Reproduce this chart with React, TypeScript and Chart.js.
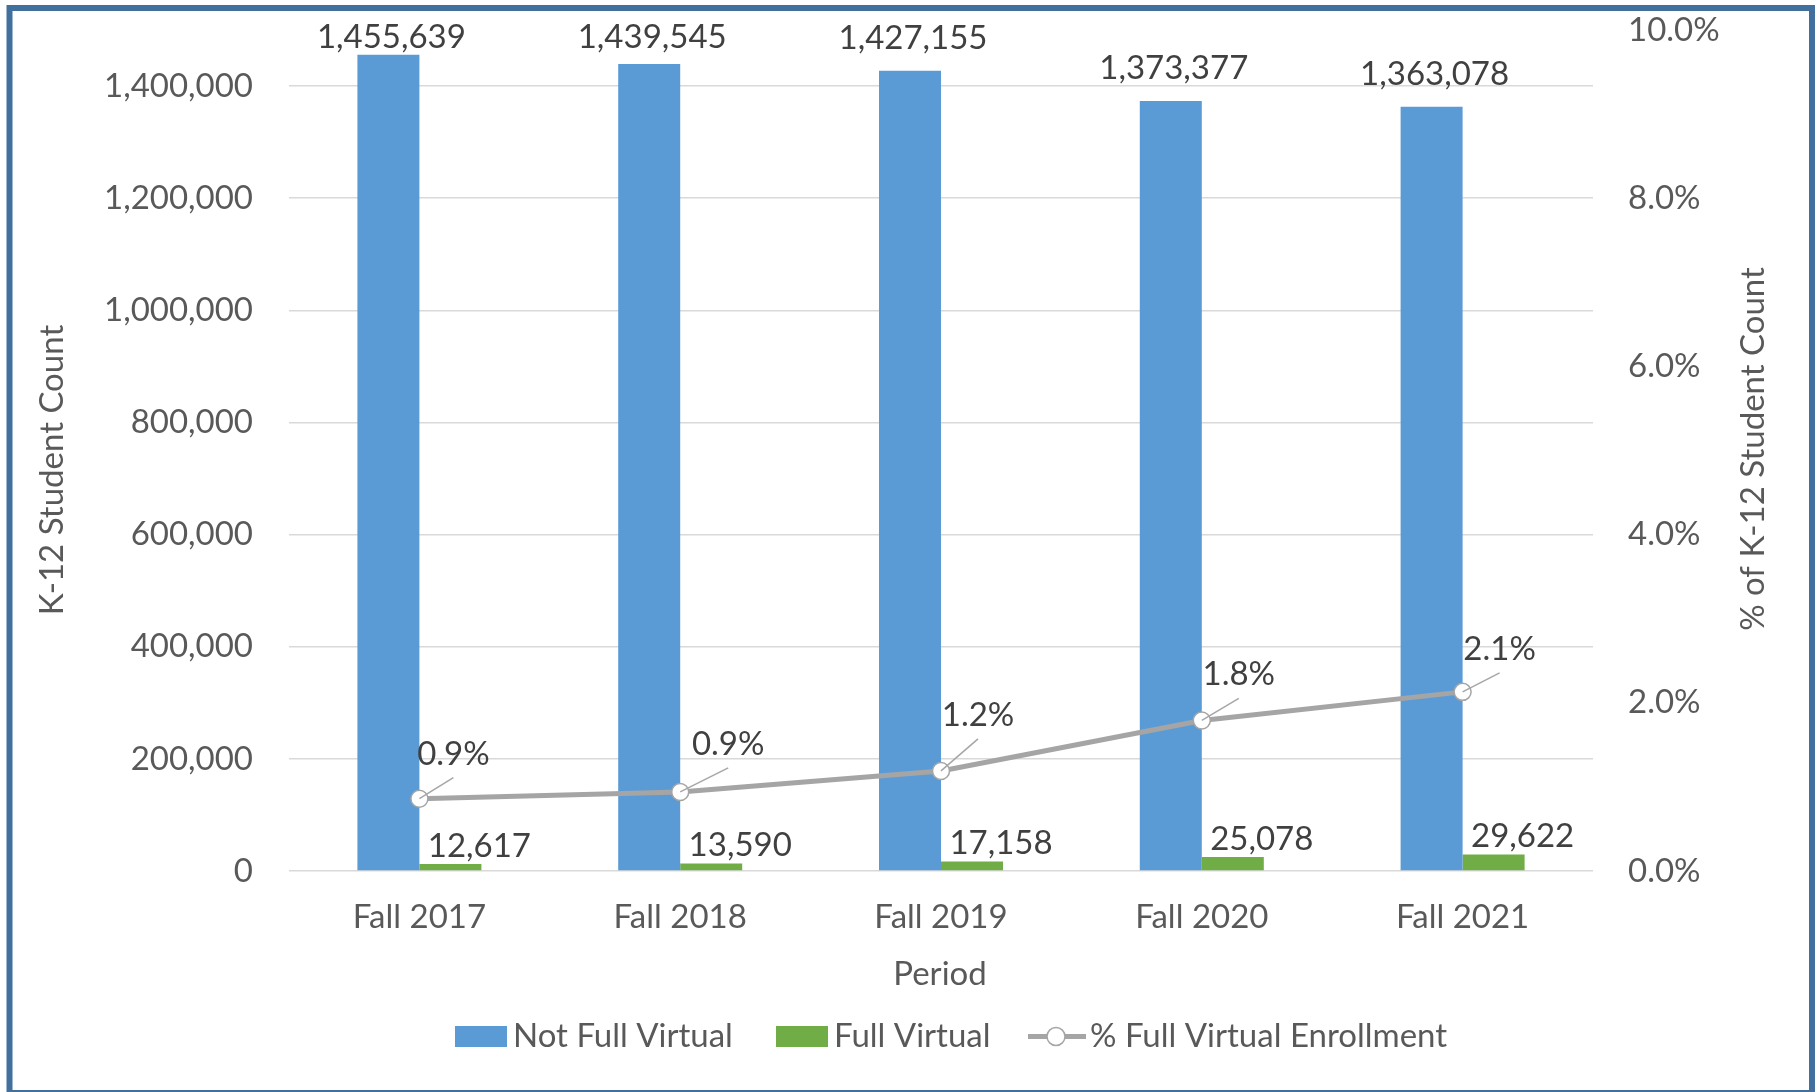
import React, { useEffect, useRef } from "react";
import { Chart, registerables } from "chart.js";

Chart.register(...registerables);

// ---- data ----
const categories = ["Fall 2017", "Fall 2018", "Fall 2019", "Fall 2020", "Fall 2021"];
const notFullVirtual = [1455639, 1439545, 1427155, 1373377, 1363078];
const fullVirtual = [12617, 13590, 17158, 25078, 29622];
const pctFullVirtual = [0.86, 0.94, 1.19, 1.79, 2.13];
const seriesNames = ["Not Full Virtual", "Full Virtual", "% Full Virtual Enrollment"];
const countAxisMax = 1500000;
const countTicks = [0, 200000, 400000, 600000, 800000, 1000000, 1200000, 1400000];
const pctAxisMax = 10;
const pctTicks = [0, 2, 4, 6, 8, 10];
const xAxisTitle = "Period";
const leftAxisTitle = "K-12 Student Count";
const rightAxisTitle = "% of K-12 Student Count";

// ---- layout / style ----
const W = 1817;
const H = 1092;
const FONT_FAMILY = "Lato, 'Open Sans', sans-serif";
const FONT = `33px ${FONT_FAMILY}`;
const BLUE = "#5B9BD5";
const GREEN = "#70AD47";
const GRAY_LINE = "#A5A5A5";
const AXIS_TEXT = "#595959";
const LABEL_TEXT = "#404040";
const GRID = "#D9D9D9";
const FRAME = "#41709F";
const pctLabelOffsets = [
  [34, -46],
  [48, -49],
  [37, -57],
  [37, -47],
  [37, -44],
];

const zeroPadding = (scale: any) => {
  scale.paddingTop = 0;
  scale.paddingBottom = 0;
  scale.paddingLeft = 0;
  scale.paddingRight = 0;
};

const decorPlugin = {
  id: "decor",
  beforeDraw(chart: any) {
    const ctx = chart.ctx;
    ctx.save();
    ctx.fillStyle = "#ffffff";
    ctx.fillRect(0, 0, chart.width, chart.height);
    ctx.restore();
  },
  afterDatasetsDraw(chart: any) {
    const ctx = chart.ctx;
    const area = chart.chartArea;
    ctx.save();
    ctx.font = FONT;
    ctx.fillStyle = LABEL_TEXT;
    ctx.textAlign = "center";
    ctx.textBaseline = "alphabetic";

    // Not Full Virtual labels
    const m0 = chart.getDatasetMeta(0);
    m0.data.forEach((el: any, i: number) => {
      const base = Math.max(area.top + 18, el.y - 22);
      ctx.fillText(notFullVirtual[i].toLocaleString("en-US"), el.x + 3, base);
    });

    // Full Virtual labels
    const m1 = chart.getDatasetMeta(1);
    m1.data.forEach((el: any, i: number) => {
      ctx.fillText(fullVirtual[i].toLocaleString("en-US"), el.x + 29, el.y - 7);
    });

    // percent labels with leader lines
    const m2 = chart.getDatasetMeta(2);
    m2.data.forEach((el: any, i: number) => {
      const [dx, dy] = pctLabelOffsets[i];
      const lx = el.x + dx;
      const ly = el.y + dy;
      ctx.strokeStyle = "#A6A6A6";
      ctx.lineWidth = 1.5;
      ctx.beginPath();
      ctx.moveTo(el.x, el.y);
      ctx.lineTo(lx, ly + 25);
      ctx.stroke();
      ctx.fillText(pctFullVirtual[i].toFixed(1) + "%", lx, ly + 12);
    });
    ctx.restore();
  },
  afterDraw(chart: any) {
    const ctx = chart.ctx;
    ctx.save();
    ctx.font = FONT;
    ctx.fillStyle = AXIS_TEXT;
    ctx.textBaseline = "alphabetic";
    ctx.textAlign = "center";

    // x axis title
    ctx.fillText(xAxisTitle, 940, 985);

    // left axis title
    ctx.save();
    ctx.translate(63, 470);
    ctx.rotate(-Math.PI / 2);
    ctx.fillText(leftAxisTitle, 0, 0);
    ctx.restore();

    // right axis title
    ctx.save();
    ctx.translate(1764, 449);
    ctx.rotate(-Math.PI / 2);
    ctx.fillText(rightAxisTitle, 0, 0);
    ctx.restore();

    // legend
    ctx.textAlign = "left";
    const legY = 1047;
    ctx.fillStyle = BLUE;
    ctx.fillRect(455, 1026, 52, 21);
    ctx.fillStyle = AXIS_TEXT;
    ctx.fillText(seriesNames[0], 513, legY);

    ctx.fillStyle = GREEN;
    ctx.fillRect(776, 1026, 52, 21);
    ctx.fillStyle = AXIS_TEXT;
    ctx.fillText(seriesNames[1], 834, legY);

    ctx.strokeStyle = GRAY_LINE;
    ctx.lineWidth = 5;
    ctx.beginPath();
    ctx.moveTo(1028, 1036.5);
    ctx.lineTo(1086, 1036.5);
    ctx.stroke();
    ctx.beginPath();
    ctx.arc(1056, 1036.5, 9, 0, Math.PI * 2);
    ctx.fillStyle = "#ffffff";
    ctx.fill();
    ctx.lineWidth = 1.5;
    ctx.stroke();
    ctx.fillStyle = AXIS_TEXT;
    ctx.fillText(seriesNames[2], 1090, legY);

    // frame
    ctx.strokeStyle = FRAME;
    ctx.lineWidth = 6;
    ctx.strokeRect(9.5, 8, 1812 - 9.5, 1093 - 8);
    ctx.restore();
  },
};

export default function App() {
  const canvasRef = useRef<HTMLCanvasElement | null>(null);

  useEffect(() => {
    const canvas = canvasRef.current;
    if (!canvas) return;
    const chart = new Chart(canvas, {
      type: "bar",
      data: {
        labels: categories,
        datasets: [
          {
            type: "bar",
            label: seriesNames[0],
            data: notFullVirtual,
            backgroundColor: BLUE,
            yAxisID: "y",
            order: 1,
            categoryPercentage: 0.4755,
            barPercentage: 1.0,
          },
          {
            type: "bar",
            label: seriesNames[1],
            data: fullVirtual,
            backgroundColor: GREEN,
            yAxisID: "y",
            order: 1,
            categoryPercentage: 0.4755,
            barPercentage: 1.0,
          },
          {
            type: "line",
            label: seriesNames[2],
            data: pctFullVirtual,
            yAxisID: "y1",
            order: 0,
            borderColor: GRAY_LINE,
            borderWidth: 5,
            tension: 0,
            pointRadius: 8.5,
            pointBorderWidth: 1.5,
            pointBackgroundColor: "#ffffff",
            pointBorderColor: GRAY_LINE,
          },
        ] as any,
      },
      options: {
        responsive: false,
        animation: false,
        devicePixelRatio: 1,
        layout: { padding: { top: 30, left: 0, right: 0, bottom: 0 } },
        plugins: {
          legend: { display: false },
          tooltip: { enabled: false },
          title: { display: false },
        },
        scales: {
          x: {
            type: "category",
            grid: { display: false, drawTicks: false },
            border: { display: false },
            ticks: {
              color: AXIS_TEXT,
              font: { family: FONT_FAMILY, size: 33 },
              padding: 27,
              maxRotation: 0,
              autoSkip: false,
            },
            afterFit: (scale: any) => {
              scale.height = H - 871;
              zeroPadding(scale);
            },
          },
          y: {
            type: "linear",
            position: "left",
            min: 0,
            max: countAxisMax,
            grid: { color: GRID, lineWidth: 1.5, drawTicks: false },
            border: { display: false },
            afterBuildTicks: (scale: any) => {
              scale.ticks = countTicks.map((v) => ({ value: v }));
            },
            ticks: {
              color: AXIS_TEXT,
              font: { family: FONT_FAMILY, size: 33 },
              padding: 36,
              callback: (v: any) => Number(v).toLocaleString("en-US"),
            },
            afterFit: (scale: any) => {
              scale.width = 289;
              zeroPadding(scale);
            },
          },
          y1: {
            type: "linear",
            position: "right",
            min: 0,
            max: pctAxisMax,
            grid: { display: false, drawTicks: false },
            border: { display: false },
            afterBuildTicks: (scale: any) => {
              scale.ticks = pctTicks.map((v) => ({ value: v }));
            },
            ticks: {
              color: AXIS_TEXT,
              font: { family: FONT_FAMILY, size: 33 },
              padding: 35,
              callback: (v: any) => Number(v).toFixed(1) + "%",
            },
            afterFit: (scale: any) => {
              scale.width = W - 1593;
              zeroPadding(scale);
            },
          },
        },
      } as any,
      plugins: [decorPlugin],
    });
    return () => chart.destroy();
  }, []);

  return (
    <div style={{ position: "absolute", left: 0, top: 0, width: W, height: H }}>
      <canvas ref={canvasRef} width={W} height={H} style={{ display: "block", width: W, height: H }} />
    </div>
  );
}
